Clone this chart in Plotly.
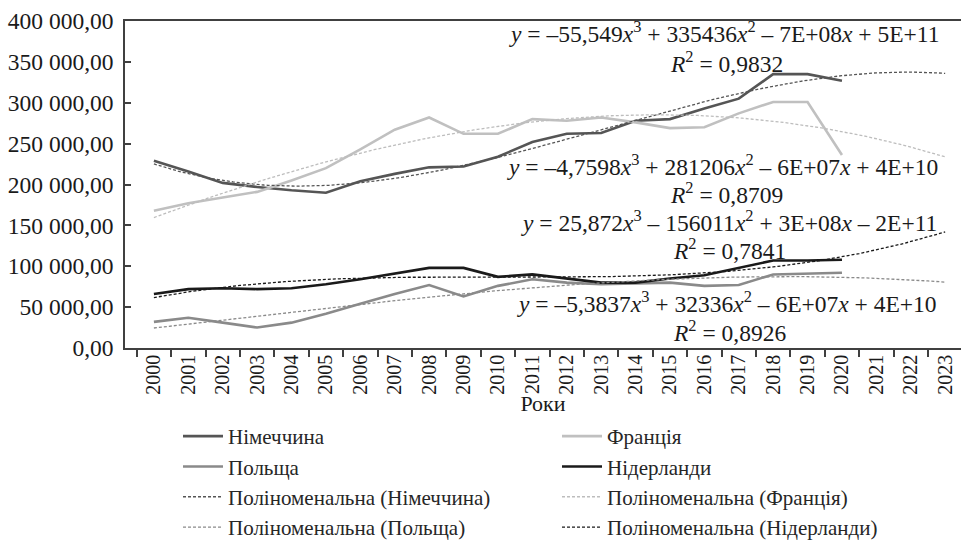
import numpy as np
import plotly.graph_objects as go

years = list(range(2000, 2021))
germany = [229, 216, 202, 197, 193, 190, 204, 213, 221, 222, 234, 252, 262, 263, 278, 280, 293, 305, 335, 335, 327]
france = [168, 177, 184, 191, 205, 220, 243, 267, 282, 262, 262, 280, 278, 282, 276, 269, 270, 287, 301, 301, 236]
poland = [32, 37, 31, 25, 31, 42, 54, 66, 77, 63, 76, 84, 80, 78, 79, 80, 76, 77, 90, 91, 92]
netherlands = [66, 72, 73, 72, 73, 78, 84, 91, 98, 98, 87, 90, 85, 80, 80, 85, 89, 98, 107, 107, 108]
axis_years = list(range(2000, 2024))
ytick_vals = [0, 50000, 100000, 150000, 200000, 250000, 300000, 350000, 400000]
ytick_text = ["0,00", "50 000,00", "100 000,00", "150 000,00", "200 000,00",
              "250 000,00", "300 000,00", "350 000,00", "400 000,00"]

names = ["Німеччина", "Франція", "Польща", "Нідерланди"]
series = [germany, france, poland, netherlands]
colors = ["#555555", "#c0c0c0", "#8a8a8a", "#1a1a1a"]
trend_colors = ["#555555", "#bdbdbd", "#8a8a8a", "#1a1a1a"]
equations = [
    ("<i>y</i> = –55,549<i>x</i><sup>3</sup> + 335436<i>x</i><sup>2</sup> – 7E+08<i>x</i> + 5E+11", "<i>R</i><sup>2</sup> = 0,9832"),
    ("<i>y</i> = –4,7598<i>x</i><sup>3</sup> + 281206<i>x</i><sup>2</sup> – 6E+07<i>x</i> + 4E+10", "<i>R</i><sup>2</sup> = 0,8709"),
    ("<i>y</i> = –5,3837<i>x</i><sup>3</sup> + 32336<i>x</i><sup>2</sup> – 6E+07<i>x</i> + 4E+10", "<i>R</i><sup>2</sup> = 0,8926"),
    ("<i>y</i> = 25,872<i>x</i><sup>3</sup> – 156011<i>x</i><sup>2</sup> + 3E+08<i>x</i> – 2E+11", "<i>R</i><sup>2</sup> = 0,7841"),
]

FONT = "Liberation Serif"
fig = go.Figure()
yrs = np.array(years, dtype=float)
for name, vals, c in zip(names, series, colors):
    fig.add_trace(go.Scatter(x=years, y=[v * 1000 for v in vals], mode="lines", name=name,
                             line=dict(color=c, width=2.6)))

xfine = np.linspace(2000, 2023, 231)
for name, vals, c in zip(names, series, trend_colors):
    coef = np.polyfit(yrs - 2000, np.array(vals) * 1000.0, 3)
    fig.add_trace(go.Scatter(x=xfine, y=np.polyval(coef, xfine - 2000), mode="lines",
                             name=f"Поліноменальна ({name})",
                             line=dict(color=c, width=1.3, dash="3px,2px")))

# annotation positions in pixels -> paper
L, T, W, H = 125, 21, 836, 327
def px(xp): return (xp - L) / W
def py(yp): return (T + H - yp) / H

eq_pos = [(724, 32, 726, 62), (722, 165, 726, 193), (727, 302, 729, 331), (729, 221, 729, 249)]
for (eq, r2), (ex, ey, rx, ry) in zip(equations, eq_pos):
    fig.add_annotation(x=px(ex), y=py(ey), xref="paper", yref="paper", text=eq, showarrow=False,
                       font=dict(family=FONT, size=23.5, color="#1a1a1a"), xanchor="center", yanchor="middle")
    fig.add_annotation(x=px(rx), y=py(ry), xref="paper", yref="paper", text=r2, showarrow=False,
                       font=dict(family=FONT, size=23.5, color="#1a1a1a"), xanchor="center", yanchor="middle")

fig.update_layout(
    width=961, height=541,
    margin=dict(l=L, r=0, t=T, b=541 - T - H),
    plot_bgcolor="white", paper_bgcolor="white",
    font=dict(family=FONT, size=22, color="#1a1a1a"),
    xaxis=dict(range=[1999.16, 2023.46], tickmode="array", tickvals=axis_years,
               ticktext=[str(y) for y in axis_years], tickangle=-90, ticks="",
               tickfont=dict(family=FONT, size=20, color="#1a1a1a"), ticklabelstandoff=-3,
               showline=True, linecolor="#404040", linewidth=1.6, mirror=True,
               showgrid=False, zeroline=False, automargin=False,
               minor=dict(tickmode="array", tickvals=[y - 0.5 for y in axis_years] + [2023.5],
                          ticks="outside", ticklen=7, tickcolor="#404040", tickwidth=1.5),
               title=dict(text="Роки", font=dict(family=FONT, size=22, color="#1a1a1a"), standoff=30)),
    yaxis=dict(range=[0, 400000], tickmode="array", tickvals=ytick_vals, ticktext=ytick_text,
               ticks="inside", ticklen=6, tickcolor="#404040", tickwidth=1.5,
               tickfont=dict(family=FONT, size=23.5, color="#1a1a1a"), ticklabelstandoff=5,
               showline=True, linecolor="#404040", linewidth=1.6, automargin=False,
               showgrid=False, zeroline=False),
    legend=dict(orientation="h", xref="container", yref="container",
                x=178 / 961, y=1 - 416 / 541, xanchor="left", yanchor="top",
                entrywidth=324, itemwidth=40,
                font=dict(family=FONT, size=21, color="#262626"),
                bgcolor="rgba(0,0,0,0)"),
    showlegend=True,
)

fig.write_html("out.html", config={"displayModeBar": False},
               post_script="document.body.style.margin='0';document.body.style.overflow='hidden';")
